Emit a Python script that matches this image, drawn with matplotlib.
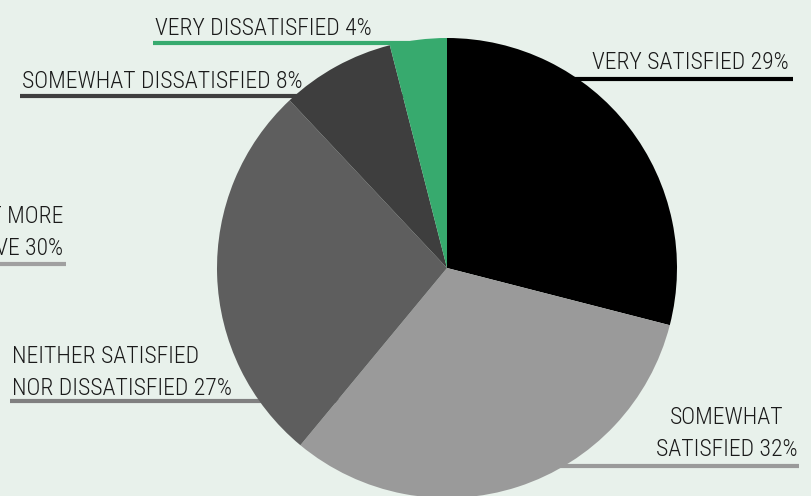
import matplotlib.pyplot as plt

# pie data, clockwise from the top
labels = ["VERY SATISFIED", "SOMEWHAT\nSATISFIED", "NEITHER SATISFIED\nNOR DISSATISFIED",
          "SOMEWHAT DISSATISFIED", "VERY DISSATISFIED"]
values = [29, 32, 27, 8, 4]
colors = ["#000000", "#9a9a9a", "#5e5e5e", "#3e3e3e", "#37aa6e"]

# label left over from a neighbouring chart, cut by the edge
side_label = "NOT MORE\nTHAN ABOVE"
side_value = 30

W, H = 811, 496
bg = "#e8f1eb"
font = ["Roboto Condensed", "Liberation Sans Narrow", "DejaVu Sans"]

fig = plt.figure(figsize=(W / 100, H / 100), dpi=100, facecolor=bg)
ax = fig.add_axes([0, 0, 1, 1])
ax.set_facecolor(bg)

ax.pie(values, colors=colors, startangle=90, counterclock=False,
       center=(447, H - 268), radius=230, frame=True,
       wedgeprops=dict(linewidth=0))

def fy(y):
    return H - y

# (index, x, baseline of last line, ha, line y, line x0, line x1, line colour)
placements = [
    (0, 789, 69, "right", 79, 470, 793, "#000000"),
    (1, 727, 456, "center", 466, 450, 799, "#9a9a9a"),
    (2, 12, 395, "left", 401, 10, 440, "#808080"),
    (3, 22, 88, "left", 96, 20, 440, "#3e3e3e"),
    (4, 155, 35, "left", 43, 153, 447, "#37aa6e"),
]
for i, x, yb, ha, ly, x0, x1, lc in placements:
    ax.plot([x0, x1], [fy(ly), fy(ly)], color=lc, lw=3, zorder=0.5,
            solid_capstyle="butt")
    ax.text(x, fy(yb), f"{labels[i]} {values[i]}%", ha=ha, va="baseline",
            multialignment=ha, fontsize=17, family=font, weight="light",
            color="#1a1a1a", linespacing=1.5)

ax.plot([0, 66], [fy(264), fy(264)], color="#a0a0a0", lw=3, zorder=0.5,
        solid_capstyle="butt")
ax.text(63, fy(255), f"{side_label} {side_value}%", ha="right", va="baseline",
        multialignment="right", fontsize=17, family=font, weight="light",
        color="#1a1a1a", linespacing=1.5)

ax.set_xlim(0, W)
ax.set_ylim(0, H)
ax.axis("off")

fig.savefig("out.png", dpi=100, facecolor=bg)
